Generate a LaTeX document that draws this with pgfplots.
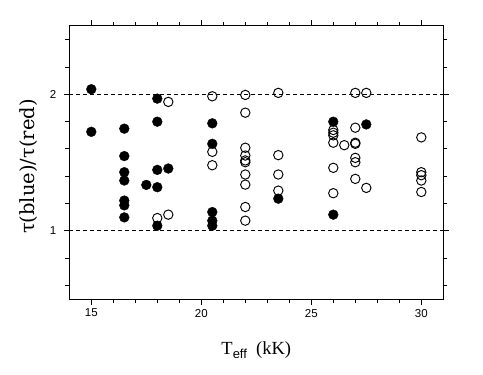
\documentclass[border=0pt]{standalone}
\usepackage{fontspec}
\setmainfont{Liberation Serif}
\newfontfamily\ticksfont{Liberation Sans}
\newfontfamily\labfont{DejaVu Serif}
\usepackage{pgfplots}
\pgfplotsset{compat=1.18}
\begin{document}
\begin{tikzpicture}
\begin{axis}[
  scale only axis,
  width=374pt, height=273pt,
  xmin=14, xmax=31, ymin=0.5, ymax=2.5,
  xtick={15,20,25,30},
  minor xtick={16,17,18,19,21,22,23,24,26,27,28,29},
  ytick={1,2},
  minor ytick={0.6,0.8,1.2,1.4,1.6,1.8,2.2,2.4},
  tick align=outside,
  major tick length=5.5pt, minor tick length=4pt,
  every tick/.style={black, line width=0.9pt},
  axis line style={line width=1pt},
  /pgf/number format/assume math mode=true,
  tick label style={font=\fontsize{11.5}{13}\ticksfont},
  xticklabel style={yshift=-1pt},
  yticklabel style={xshift=-4pt},
  xlabel={T\raisebox{-0.45ex}{\fontsize{13}{13}\ticksfont eff}\ \ (kK)},
  xlabel style={font=\fontsize{18.5}{20}\selectfont, at={(axis description cs:0.5,-0.204)}, anchor=base},
  ylabel={\labfont τ(blue)/τ(red)},
  ylabel style={font=\fontsize{19.5}{21}\selectfont, at={(axis description cs:-0.11,0.485)}, anchor=center},
  clip=false,
]
\addplot[black, dash pattern=on 4pt off 3pt, line width=0.9pt] coordinates {(14,2) (31,2)};
\addplot[black, dash pattern=on 4pt off 3pt, line width=0.9pt] coordinates {(14,1) (31,1)};
% filled
\addplot[only marks, mark=*, mark size=4.9pt, mark options={fill=black, draw=black}] coordinates {
(15,2.037) (15,1.725)
(16.5,1.748) (16.5,1.547) (16.5,1.429) (16.5,1.368) (16.5,1.221) (16.5,1.186) (16.5,1.098)
(17.5,1.336)
(18,1.968) (18,1.799) (18,1.446) (18,1.319) (18,1.037)
(18.5,1.456)
(20.5,1.787) (20.5,1.637) (20.5,1.137) (20.5,1.074) (20.5,1.037)
(23.5,1.235)
(26,1.799) (26,1.118)
(27.5,1.779)
};
% open
\addplot[only marks, mark=o, mark size=4.7pt, mark options={draw=black, line width=0.95pt}] coordinates {
(18,1.093)
(18.5,1.944) (18.5,1.118)
(20.5,1.985) (20.5,1.578) (20.5,1.480)
(22,1.995) (22,1.865) (22,1.608) (22,1.551) (22,1.515) (22,1.502) (22,1.412) (22,1.338) (22,1.174) (22,1.074)
(23.5,2.010) (23.5,1.554) (23.5,1.412) (23.5,1.294)
(26,1.738) (26,1.718) (26,1.699) (26,1.645) (26,1.461) (26,1.275)
(26.5,1.627)
(27,2.010) (27,1.755) (27,1.645) (27,1.637) (27,1.534) (27,1.502) (27,1.380)
(27.5,2.010) (27.5,1.314)
(30,1.684) (30,1.429) (30,1.407) (30,1.368) (30,1.284)
};
\end{axis}
\path ([shift={(-69.3pt,-75.7pt)}]current axis.south west) rectangle ([shift={(39.7pt,26pt)}]current axis.north east);
\end{tikzpicture}
\end{document}
